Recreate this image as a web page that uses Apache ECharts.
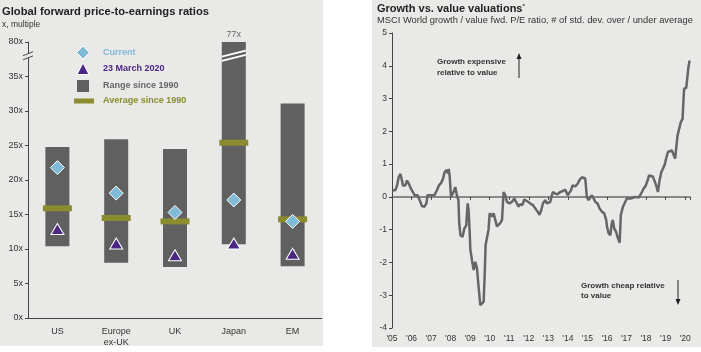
<!DOCTYPE html>
<html>
<head>
<meta charset="utf-8">
<script src="https://cdn.jsdelivr.net/npm/echarts@6/dist/echarts.min.js"></script>
<style>
  html, body { margin: 0; padding: 0; background: #fff; }
  #main { width: 701px; height: 352px; }
</style>
</head>
<body>
<div id="main"></div>
<script>
// left panel: forward P/E by region
const regions = ['US', 'Europe\nex-UK', 'UK', 'Japan', 'EM']
const rangeLow = [10.4, 8.0, 7.4, 10.7, 7.5]
const rangeHigh = [24.8, 25.9, 24.5, 77, 31.1]
const average = [15.9, 14.5, 14.0, 25.4, 14.3]
const current = [21.8, 18.1, 15.3, 17.1, 14.0]
const march2020 = [12.9, 10.8, 9.1, 10.8, 9.3]
const peTickLabels = ['0x', '5x', '10x', '15x', '20x', '25x', '30x', '35x', '80x']

// right panel: growth vs value, std. dev.
const years = [2005.03, 2005.17, 2005.26, 2005.34, 2005.43, 2005.51, 2005.56, 2005.68, 2005.77, 2005.90, 2005.97,
  2006.07, 2006.16, 2006.23, 2006.31, 2006.42, 2006.53, 2006.65, 2006.76, 2006.82, 2006.96,
  2007.05, 2007.17, 2007.30, 2007.40, 2007.51, 2007.61, 2007.69, 2007.78, 2007.85, 2007.90, 2007.95,
  2008.02, 2008.07, 2008.15, 2008.24, 2008.32, 2008.40, 2008.44, 2008.50, 2008.61, 2008.70, 2008.80, 2008.87, 2008.92, 2008.97,
  2009.01, 2009.09, 2009.18, 2009.26, 2009.35, 2009.43, 2009.52, 2009.60, 2009.69, 2009.74, 2009.79, 2009.86, 2009.94,
  2010.00, 2010.06, 2010.13, 2010.20, 2010.29, 2010.37, 2010.46, 2010.54, 2010.63, 2010.71, 2010.80, 2010.88,
  2011.02, 2011.14, 2011.26, 2011.33, 2011.39, 2011.48, 2011.56, 2011.67, 2011.77, 2011.87, 2011.96,
  2012.08, 2012.21, 2012.33, 2012.45, 2012.55, 2012.64, 2012.72, 2012.84, 2012.93,
  2013.01, 2013.10, 2013.18, 2013.24, 2013.35, 2013.47, 2013.61, 2013.75, 2013.87, 2013.99,
  2014.09, 2014.16, 2014.24, 2014.38, 2014.50, 2014.60, 2014.72, 2014.80, 2014.89, 2014.97,
  2015.06, 2015.14, 2015.23, 2015.32, 2015.40, 2015.52, 2015.62, 2015.74, 2015.86, 2015.96,
  2016.00, 2016.08, 2016.17, 2016.25, 2016.30, 2016.37, 2016.47, 2016.54, 2016.65, 2016.68, 2016.71, 2016.82, 2016.94,
  2017.02, 2017.12, 2017.23, 2017.33, 2017.45, 2017.53, 2017.62, 2017.70, 2017.79, 2017.87, 2017.99,
  2018.08, 2018.15, 2018.25, 2018.35, 2018.45, 2018.52, 2018.61, 2018.69, 2018.78, 2018.86, 2018.95,
  2019.03, 2019.12, 2019.20, 2019.32, 2019.41, 2019.49, 2019.54, 2019.61, 2019.70, 2019.78, 2019.87, 2019.92, 2019.95,
  2020.06, 2020.12, 2020.17, 2020.23]
const stdDev = [0.2, 0.2, 0.35, 0.6, 0.7, 0.5, 0.35, 0.35, 0.5, 0.35, 0.25,
  0.2, 0.05, 0.0, 0.05, -0.1, -0.28, -0.3, -0.2, 0.05, 0.05,
  0.0, 0.05, 0.2, 0.35, 0.42, 0.55, 0.75, 0.82, 0.72, 0.85, 0.65,
  0.0, -0.05, 0.15, 0.3, 0.05, -0.1, -0.8, -1.17, -1.22, -0.97, -0.87, -0.2, -0.4, -1.0,
  -1.6, -1.93, -2.23, -1.98, -2.18, -2.74, -3.3, -3.25, -3.2, -2.43, -1.47, -1.42, -1.0,
  -0.5, -0.45, -0.6, -0.5, -0.55, -0.9, -0.87, -0.8, -0.7, 0.15, 0.05, -0.15,
  -0.2, -0.15, -0.05, 0.0, -0.2, -0.3, -0.22, -0.25, -0.08, -0.1, -0.15,
  -0.2, -0.25, -0.35, -0.45, -0.55, -0.4, -0.2, -0.1, -0.2,
  -0.25, -0.15, 0.05, 0.15, 0.1, 0.08, 0.15, 0.18, 0.22, 0.05,
  0.05, 0.2, 0.35, 0.32, 0.4, 0.52, 0.6, 0.62, 0.56, 0.0,
  -0.1, -0.05, 0.05, -0.05, -0.15, -0.2, -0.35, -0.45, -0.5, -0.7,
  -0.9, -1.1, -1.17, -0.8, -0.7, -0.96, -1.07, -1.22, -1.4, -1.0, -0.55, -0.3, -0.15,
  -0.05, -0.1, -0.05, -0.08, 0.0, -0.05, -0.02, 0.05, 0.15, 0.25, 0.35,
  0.5, 0.65, 0.62, 0.62, 0.6, 0.35, 0.15, 0.5, 0.75, 0.72, 0.97,
  1.17, 1.37, 1.42, 1.42, 1.47, 1.17, 1.22, 1.87, 1.92, 2.28, 2.38, 3.0, 3.3,
  3.33, 3.35, 3.96, 4.16]
const yearLabels = ["'05", "'06", "'07", "'08", "'09", "'10", "'11", "'12", "'13", "'14", "'15", "'16", "'17", "'18", "'19", "'20"]

const bg = '#e9e9e7'
const axisColor = '#444'
const labelColor = '#333'
const font = 'Liberation Sans'
const barGray = '#606060'
const olive = '#8a8c2f'
const blue = '#7fbad6'
const purple = '#4b2682'

// everything above the break is squeezed onto the top tick (80x)
function onAxis (v) {
  return v > 37.5 ? 40 : v
}

const chart = echarts.init(document.getElementById('main'))

const option = {
  animation: false,
  textStyle: { fontFamily: font },
  title: [{
    text: 'Global forward price-to-earnings ratios',
    subtext: 'x, multiple',
    left: 2,
    top: 6,
    padding: 0,
    itemGap: 3.5,
    textStyle: { fontSize: 11.2, fontWeight: 'bold', color: '#222', fontFamily: font },
    subtextStyle: { fontSize: 8.5, color: '#333', fontFamily: font }
  }, {
    text: 'Growth vs. value valuations{s|*}',
    subtext: 'MSCI World growth / value fwd. P/E ratio, # of std. dev. over / under average',
    left: 377,
    top: 3.5,
    padding: 0,
    itemGap: 1.5,
    textStyle: {
      fontSize: 11,
      fontWeight: 'bold',
      color: '#222',
      fontFamily: font,
      rich: { s: { fontSize: 6, verticalAlign: 'top', color: '#222', padding: [0, 0, 4, 0] } }
    },
    subtextStyle: { fontSize: 9.35, color: '#333', fontFamily: font }
  }],
  grid: [
    { left: 28, top: 42, right: 379, bottom: 34, outerBoundsMode: 'none' },
    { left: 392, top: 33, right: 11, bottom: 24, outerBoundsMode: 'none' }
  ],
  xAxis: [{
    gridIndex: 0,
    type: 'category',
    data: regions,
    axisLine: { lineStyle: { color: axisColor } },
    axisTick: { length: 4, lineStyle: { color: axisColor } },
    axisLabel: { color: labelColor, fontSize: 9, margin: 8, lineHeight: 11 }
  }, {
    gridIndex: 1,
    type: 'value',
    min: 2005,
    max: 2020.25,
    interval: 1,
    position: 'bottom',
    splitLine: { show: false },
    axisLine: { show: false, onZero: false },
    axisTick: { show: false },
    axisLabel: {
      color: labelColor,
      fontSize: 8.5,
      margin: 6,
      formatter: v => (Number.isInteger(v) ? yearLabels[v - 2005] : '')
    }
  }, {
    gridIndex: 1,
    type: 'value',
    min: 2005,
    max: 2020.25,
    interval: 1,
    position: 'top',
    splitLine: { show: false },
    axisLine: { onZero: true, lineStyle: { color: '#6a6a6a', width: 1.5 } },
    axisTick: { inside: true, length: 3, lineStyle: { color: '#444' } },
    axisLabel: { show: false }
  }],
  yAxis: [{
    gridIndex: 0,
    type: 'value',
    min: 0,
    max: 40,
    interval: 5,
    splitLine: { show: false },
    axisLine: { show: true, onZero: false, lineStyle: { color: axisColor } },
    axisTick: { show: true, length: 3, lineStyle: { color: axisColor } },
    axisLabel: { color: labelColor, fontSize: 9, margin: 5, formatter: v => peTickLabels[v / 5] }
  }, {
    gridIndex: 1,
    type: 'value',
    min: -4,
    max: 5,
    interval: 1,
    splitLine: { show: false },
    axisLine: { show: true, onZero: false, lineStyle: { color: axisColor } },
    axisTick: { show: true, length: 3, lineStyle: { color: axisColor } },
    axisLabel: { color: labelColor, fontSize: 8.5, margin: 5 }
  }],
  series: [{
    name: 'base',
    type: 'bar',
    xAxisIndex: 0,
    yAxisIndex: 0,
    stack: 'range',
    silent: true,
    barWidth: 24,
    itemStyle: { color: 'transparent' },
    data: rangeLow
  }, {
    name: 'Range since 1990',
    type: 'bar',
    xAxisIndex: 0,
    yAxisIndex: 0,
    stack: 'range',
    barWidth: 24,
    itemStyle: { color: barGray },
    data: rangeHigh.map((h, i) => {
      const item = { value: onAxis(h) - rangeLow[i] }
      if (h > 37.5) {
        item.label = { show: true, position: 'top', formatter: h + 'x', color: '#666', fontSize: 9, distance: 3 }
      }
      return item
    })
  }, {
    name: 'Average since 1990',
    type: 'scatter',
    xAxisIndex: 0,
    yAxisIndex: 0,
    symbol: 'rect',
    symbolSize: [29, 6],
    itemStyle: { color: olive, opacity: 1 },
    z: 3,
    data: average
  }, {
    name: 'Current',
    type: 'scatter',
    xAxisIndex: 0,
    yAxisIndex: 0,
    symbol: 'diamond',
    symbolSize: [14, 14],
    itemStyle: { color: blue, borderColor: '#fff', borderWidth: 1, opacity: 1 },
    z: 4,
    data: current
  }, {
    name: '23 March 2020',
    type: 'scatter',
    xAxisIndex: 0,
    yAxisIndex: 0,
    symbol: 'triangle',
    symbolSize: [13, 11],
    itemStyle: { color: purple, borderColor: '#fff', borderWidth: 1, opacity: 1 },
    z: 4,
    data: march2020
  }, {
    name: 'Growth / value',
    type: 'line',
    xAxisIndex: 1,
    yAxisIndex: 1,
    showSymbol: false,
    lineStyle: { color: '#666', width: 2.5 },
    z: 5,
    data: years.map((y, i) => [y, stdDev[i]])
  }],
  graphic: [
    // panel backgrounds
    { type: 'rect', z: -10, shape: { x: 0, y: 0, width: 323, height: 346 }, style: { fill: bg } },
    { type: 'rect', z: -10, shape: { x: 372, y: 0, width: 329, height: 347 }, style: { fill: bg } },
    // legend (left panel)
    { type: 'polygon', shape: { points: [[83, 46], [89.5, 52.5], [83, 59], [76.5, 52.5]] }, style: { fill: blue, stroke: '#fff', lineWidth: 1 } },
    { type: 'polygon', shape: { points: [[83, 63], [89, 74.5], [77, 74.5]] }, style: { fill: purple, stroke: '#fff', lineWidth: 1 } },
    { type: 'rect', shape: { x: 77, y: 80, width: 12, height: 12 }, style: { fill: barGray } },
    { type: 'rect', shape: { x: 74, y: 98.5, width: 20, height: 5 }, style: { fill: olive } },
    { type: 'text', x: 103, y: 52.5, style: { text: 'Current', fill: blue, font: 'bold 9px ' + font, verticalAlign: 'middle' } },
    { type: 'text', x: 103, y: 69, style: { text: '23 March 2020', fill: purple, font: 'bold 9px ' + font, verticalAlign: 'middle' } },
    { type: 'text', x: 103, y: 85.5, style: { text: 'Range since 1990', fill: '#666', font: 'bold 9px ' + font, verticalAlign: 'middle' } },
    { type: 'text', x: 103, y: 101, style: { text: 'Average since 1990', fill: olive, font: 'bold 9px ' + font, verticalAlign: 'middle' } },
    // right panel notes
    { type: 'text', x: 437, y: 56, style: { text: 'Growth expensive\nrelative to value', fill: '#333', font: 'bold 8px ' + font, lineHeight: 11.5 } },
    { type: 'line', shape: { x1: 519, y1: 78, x2: 519, y2: 58 }, style: { stroke: '#222', lineWidth: 1 } },
    { type: 'polygon', shape: { points: [[519, 53], [521.5, 59], [516.5, 59]] }, style: { fill: '#222' } },
    { type: 'text', x: 581, y: 281, style: { text: 'Growth cheap relative\nto value', fill: '#333', font: 'bold 8px ' + font, lineHeight: 10 } },
    { type: 'line', shape: { x1: 678, y1: 280, x2: 678, y2: 300 }, style: { stroke: '#222', lineWidth: 1 } },
    { type: 'polygon', shape: { points: [[678, 305], [680.5, 299], [675.5, 299]] }, style: { fill: '#222' } }
  ]
}

chart.setOption(option)

// axis break marks: on the left axis and across the Japan bar
const yBreakLo = chart.convertToPixel({ yAxisIndex: 0 }, 37.7)
const yBreakHi = chart.convertToPixel({ yAxisIndex: 0 }, 38.3)
const axisX = chart.convertToPixel({ xAxisIndex: 0 }, 'US') - 29.4
const japanX = chart.convertToPixel({ xAxisIndex: 0 }, 'Japan')
chart.setOption({
  graphic: option.graphic.concat([
    { type: 'polygon', z: 10, shape: { points: [[axisX - 5, yBreakLo + 2], [axisX + 5, yBreakLo - 2], [axisX + 5, yBreakHi - 2], [axisX - 5, yBreakHi + 2]] }, style: { fill: bg } },
    { type: 'line', z: 10, shape: { x1: axisX - 5, y1: yBreakLo + 2, x2: axisX + 5, y2: yBreakLo - 2 }, style: { stroke: axisColor, lineWidth: 1 } },
    { type: 'line', z: 10, shape: { x1: axisX - 5, y1: yBreakHi + 2, x2: axisX + 5, y2: yBreakHi - 2 }, style: { stroke: axisColor, lineWidth: 1 } },
    { type: 'line', z: 10, shape: { x1: japanX - 12, y1: yBreakLo + 3, x2: japanX + 12, y2: yBreakLo - 3 }, style: { stroke: '#fff', lineWidth: 1.8 } },
    { type: 'line', z: 10, shape: { x1: japanX - 12, y1: yBreakHi + 3, x2: japanX + 12, y2: yBreakHi - 3 }, style: { stroke: '#fff', lineWidth: 1.8 } }
  ])
})
</script>
</body>
</html>
